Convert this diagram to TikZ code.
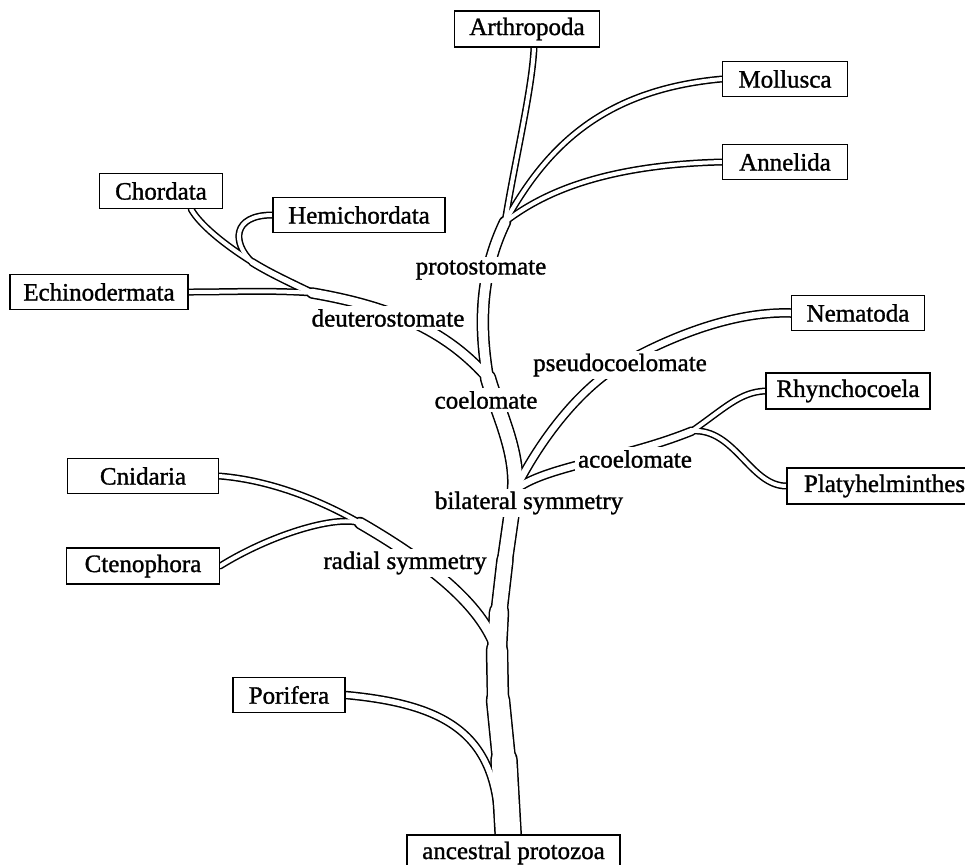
\documentclass[tikz,border=0pt]{standalone}
\usepackage{fontspec}
\setmainfont{Liberation Serif}[FakeBold=1.2]
\usetikzlibrary{backgrounds}

\newcommand\treetubes{%
\foreach \a/\b/\w in {t0/t1/26,t1/t2/23,t2/t3/21,t3/t4/19,t4/t5/16,t5/bf/15}
  \draw[tb=\w] (\a) -- (\b);
\draw[tb=15] (bf) .. controls (518,450) and (497,410) .. (cf);
\draw[tb=11] (cf) .. controls (478,320) and (482,270) .. (pf);
\draw[tb=5.5] (pf) .. controls (515,160) and (532,90) .. ([xshift=3.5pt]arth.south);
\draw[tb=5.5] (pf) .. controls (545,150) and (600,90) .. (moll.west);
\draw[tb=5.5] (pf) .. controls (540,195) and (600,165) .. (anne.west);
\draw[tb=10] (cf) .. controls (450,335) and (400,308) .. (df);
\draw[tb=5.5] (df) .. controls (270,290) and (230,292) .. (echi.east);
\draw[tb=7] (df) .. controls (285,280) and (268,272) .. (chf);
\draw[tb=5.5] (chf) .. controls (225,245) and (200,225) .. ([xshift=-16pt]chor.south east);
\draw[tb=5.5] (chf) .. controls (232,243) and (232,215) .. (hemi.west);
\draw[tb=8] (bf) .. controls (540,440) and (580,387) .. (pm) .. controls (665,340) and (730,311) .. (nema.west);
\draw[tb=8] (bf) .. controls (545,466) and (620,460) .. (af);
\draw[tb=5.5] (af) .. controls (725,408) and (740,392) .. (rhyn.west);
\draw[tb=5.5] (af) .. controls (735,428) and (750,486) .. (plat.west);
\draw[tb=11] (t3) .. controls (485,615) and (450,575) .. (rf);
\draw[tb=5.5] (rf) .. controls (320,500) and (270,480) .. (cnid.east);
\draw[tb=5.5] (rf) .. controls (335,515) and (270,535) .. (cten.east);
\draw[tb=7] (pb) .. controls (500,740) and (455,705) .. (pori.east);
}

\begin{document}
\begin{tikzpicture}[x=0.5pt,y=-0.5pt,font=\fontsize{12.5}{15}\selectfont,
  box/.style={draw,fill=white,line width=0.6pt,minimum height=17.5pt,inner xsep=0pt},
  lab/.style={fill=white,inner sep=1.5pt}]
\useasboundingbox (0,0) rectangle (965,864);
\node[box,minimum width=72.5pt] (arth) at (527,29) {Arthropoda};
\node[box,minimum width=62.5pt] (moll) at (785,79) {Mollusca};
\node[box,minimum width=62.5pt] (anne) at (785,162) {Annelida};
\node[box,minimum width=61.5pt] (chor) at (161,191) {Chordata};
\node[box,minimum width=86pt] (hemi) at (359,215) {Hemichordata};
\node[box,minimum width=89pt] (echi) at (99,292) {Echinodermata};
\node[box,minimum width=66.5pt] (nema) at (858,313) {Nematoda};
\node[box,minimum width=82pt] (rhyn) at (848,391) {Rhynchocoela};
\node[box,minimum width=97.5pt] (plat) at (884.5,486) {Platyhelminthes};
\node[box,minimum width=75.5pt] (cnid) at (143,476) {Cnidaria};
\node[box,minimum width=76.5pt] (cten) at (143,566) {Ctenophora};
\node[box,minimum width=56pt] (pori) at (289,695) {Porifera};
\node[box,minimum width=106.5pt] (anc) at (513.5,853) {ancestral protozoa};
\node[lab] (proto) at (481,270) {protostomate};
\node[lab] (deut) at (388,318) {deuterostomate};
\node[lab] (coel) at (486,400) {coelomate};
\node[lab] (pseu) at (620,365) {pseudocoelomate};
\node[lab] (acoe) at (635,459) {acoelomate};
\node[lab] (bila) at (529,503) {bilateral symmetry};
\node[lab] (radi) at (405,563) {radial symmetry};
\coordinate (t0) at (508.5,840);
\coordinate (t1) at (504,760);
\coordinate (t2) at (498,700);
\coordinate (t3) at (497,650);
\coordinate (t4) at (499,612);
\coordinate (t5) at (505,560);
\coordinate (bf) at (515,490);
\coordinate (cf) at (488,378);
\coordinate (pf) at (505,222);
\coordinate (df) at (312,293);
\coordinate (chf) at (252,262);
\coordinate (pm) at (625,362);
\coordinate (af) at (692,431);
\coordinate (rf) at (360,523);
\coordinate (pb) at (499,838);
\begin{scope}[on background layer]
\tikzset{tb/.style={line cap=round,line join=round,line width=#1*0.5pt+0.75pt}}
\treetubes
\tikzset{tb/.style={white,line cap=round,line join=round,line width=#1*0.5pt-0.75pt}}
\treetubes
\end{scope}
\end{tikzpicture}
\end{document}
